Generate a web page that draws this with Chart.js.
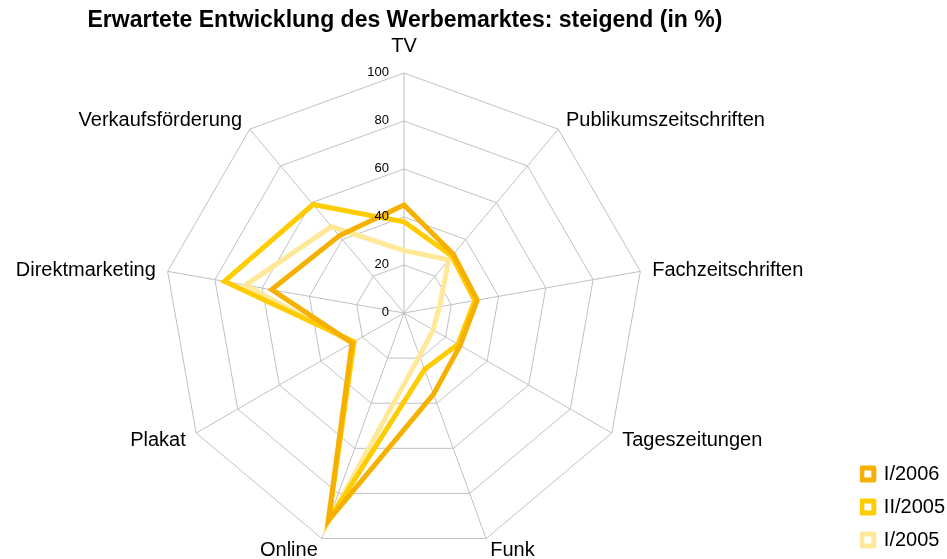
<!DOCTYPE html>
<html>
<head>
<meta charset="utf-8">
<script src="https://cdn.jsdelivr.net/npm/chart.js@4"></script>
<style>
  html, body { margin: 0; padding: 0; background: #fff; overflow: hidden; }
  #wrap { width: 947px; height: 559px; overflow: hidden; }
  /* canvas is a bit larger than the page so the radar sits left of the page middle */
  #radarChart { display: block; margin-left: -50px; }
</style>
</head>
<body>
<div id="wrap"><canvas id="radarChart" width="1006" height="569"></canvas></div>
<script>
// Werbemarkt radar chart

const categories = ['TV', 'Publikumszeitschriften', 'Fachzeitschriften', 'Tageszeitungen',
  'Funk', 'Online', 'Plakat', 'Direktmarketing', 'Verkaufsförderung'];

const seriesNames = ['I/2006', 'II/2005', 'I/2005'];
const values2006a = [45, 32, 31, 27, 36, 92, 25, 56, 42];
const values2005b = [38, 31, 30, 26, 25, 92, 24, 76, 59];
const values2005a = [26, 29, 15, 14, 19, 93, 25, 67, 47];
const seriesColors = ['#F5B000', '#FFCC00', '#FFE999'];

const tickValues = [0, 20, 40, 60, 80, 100];

const FONT = '"Liberation Sans", Arial, sans-serif';

// tick numbers left of the vertical axis + category labels centred on the spokes
const labelPlugin = {
  id: 'radarLabels',
  afterDatasetsDraw(chart) {
    const scale = chart.scales.r;
    const ctx = chart.ctx;
    ctx.save();
    ctx.fillStyle = '#000';

    ctx.font = '13px ' + FONT;
    ctx.textAlign = 'right';
    ctx.textBaseline = 'middle';
    for (const v of tickValues) {
      const d = scale.getDistanceFromCenterForValue(v);
      ctx.fillText(String(v), scale.xCenter - 15, scale.yCenter - d - 1);
    }

    ctx.font = '20px ' + FONT;
    categories.forEach((name, i) => {
      const pad = i === 0 ? 28 : 12;
      const pos = scale.getPointPosition(i, scale.drawingArea + pad);
      if (i === 0) ctx.textAlign = 'center';
      else if (pos.x > scale.xCenter) ctx.textAlign = 'left';
      else ctx.textAlign = 'right';
      ctx.fillText(name, pos.x, pos.y + 1);
    });
    ctx.restore();
  }
};

const allValues = [values2006a, values2005b, values2005a];

const ctx = document.getElementById('radarChart').getContext('2d');
new Chart(ctx, {
  type: 'radar',
  data: {
    labels: categories,
    datasets: seriesNames.map((name, i) => ({
      label: name,
      data: allValues[i],
      borderColor: seriesColors[i],
      backgroundColor: '#ffffff',
      borderWidth: 5,
      pointRadius: 0,
      fill: false,
      tension: 0
    }))
  },
  options: {
    responsive: false,
    animation: false,
    layout: {
      padding: { left: 0, right: 1, top: 0, bottom: 6 }
    },
    plugins: {
      title: {
        display: true,
        text: 'Erwartete Entwicklung des Werbemarktes: steigend (in %)',
        color: '#000',
        font: { family: FONT, size: 23, weight: 'bold' },
        padding: { top: 7, bottom: 28.4 },
        fullSize: false
      },
      legend: {
        position: 'right',
        align: 'end',
        labels: {
          color: '#000',
          font: { family: FONT, size: 20, lineHeight: 1.55 },
          usePointStyle: true,
          boxWidth: 12,
          boxHeight: 12,
          padding: 2,
          generateLabels(chart) {
            // one-line arrays so the row height follows the font lineHeight
            return chart.data.datasets.map((ds, i) => ({
              text: [ds.label],
              fillStyle: '#ffffff',
              strokeStyle: ds.borderColor,
              lineWidth: 5,
              lineJoin: 'round',
              pointStyle: 'rect',
              fontColor: '#000',
              datasetIndex: i
            }));
          }
        }
      },
      tooltip: { enabled: false }
    },
    scales: {
      r: {
        min: 0,
        max: 100,
        // empty tick texts: numbers are drawn by the plugin, the tick font only gives inner padding
        ticks: {
          stepSize: 20,
          display: true,
          callback: () => '',
          font: { size: 13 },
          backdropPadding: 3.5,
          showLabelBackdrop: false
        },
        grid: { color: '#c0c0c0', lineWidth: 1 },
        angleLines: { color: '#c0c0c0', lineWidth: 1 },
        pointLabels: { display: false }
      }
    }
  },
  plugins: [labelPlugin]
});
</script>
</body>
</html>
